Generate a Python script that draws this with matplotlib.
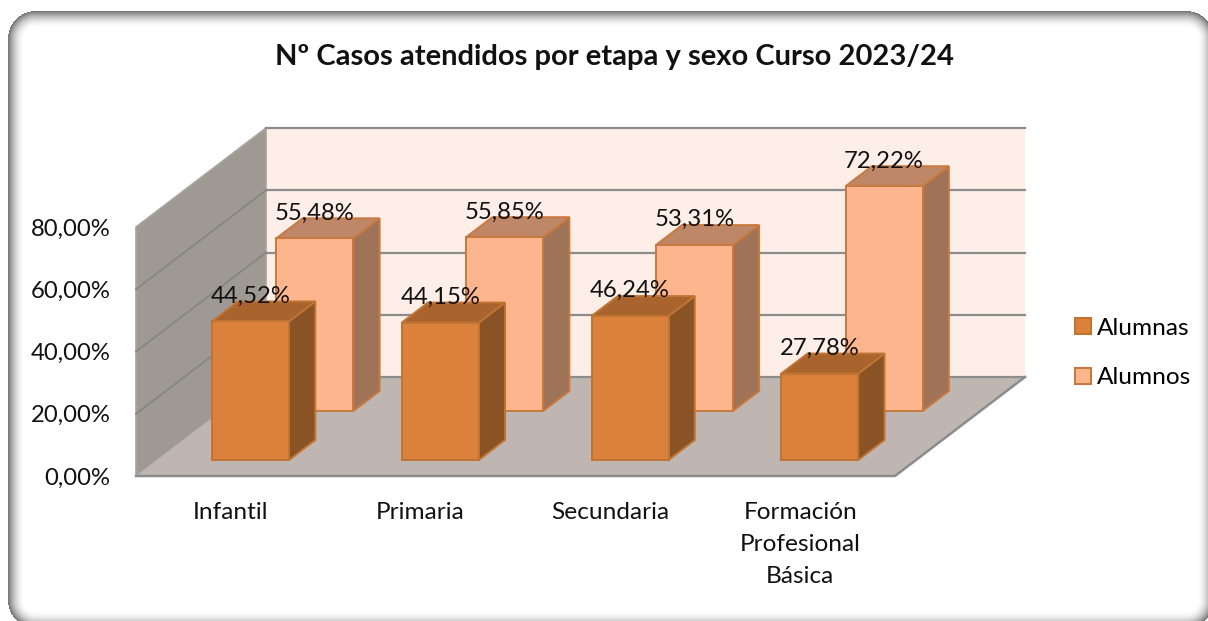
import matplotlib
matplotlib.use("Agg")
import numpy as np
import matplotlib.pyplot as plt
from matplotlib.patches import Polygon, Patch

# ---- data ----
TITLE = "Nº Casos atendidos por etapa y sexo Curso 2023/24"
categories = ["Infantil", "Primaria", "Secundaria", "Formación\nProfesional\nBásica"]
alumnas = [44.52, 44.15, 46.24, 27.78]
alumnos = [55.48, 55.85, 53.31, 72.22]
series_names = ["Alumnas", "Alumnos"]
y_ticks = [0, 20, 40, 60, 80]

plt.rcParams["font.family"] = ["Lato", "DejaVu Sans"]
W, H = 1208, 621
fig = plt.figure(figsize=(W / 100, H / 100), dpi=100, facecolor="white")

# ---- rounded frame with inner shadow (decoration, computed as a distance field) ----
bg = fig.add_axes([0, 0, 1, 1], zorder=0)
bg.axis("off")
L, T, R, B, RAD = 8, 11, 1214, 628, 28
yy, xx = np.mgrid[0:H, 0:W] + 0.5
cx, cy = (L + R) / 2, (T + B) / 2
qx = np.abs(xx - cx) - ((R - L) / 2 - RAD)
qy = np.abs(yy - cy) - ((B - T) / 2 - RAD)
dist = RAD - (np.hypot(np.maximum(qx, 0), np.maximum(qy, 0)) + np.minimum(np.maximum(qx, qy), 0))
shade = np.where(dist >= 0, np.clip(1 - dist / 17, 0, 1) ** 1.9 * 0.56, 0.0)
img = 1 - shade
bg.imshow(img, cmap="gray", vmin=0, vmax=1, extent=(0, W, H, 0), interpolation="bilinear", aspect="auto")

# ---- plot axes: x in category units, y in percent ----
ax = fig.add_axes([136 / W, (H - 476) / H, 759 / W, 249 / H], zorder=1)
ax.set_xlim(0, 4); ax.set_ylim(0, 80)
ax.patch.set_visible(False)
for sp in ax.spines.values():
    sp.set_visible(False)

DX, DY = 130 / 189.75, 99 / (249 / 80)   # oblique shift of full depth in data units
def P(x, v, d=0.0):
    return (x + d * DX, v + d * DY)
def poly(pts, **kw):
    p = Polygon(pts, closed=True, clip_on=False, **kw)
    ax.add_patch(p)

GRID = "#8c8c8c"
top = y_ticks[-1]
# back wall, side wall, floor
poly([P(0, 0, 1), P(4, 0, 1), P(4, top, 1), P(0, top, 1)], fc="#fdeee7", ec="none", zorder=1)
poly([P(0, 0, 0), P(0, 0, 1), P(0, top, 1), P(0, top, 0)], fc="#9f9994", ec="#a8a4a0", lw=1.2, zorder=1)
poly([P(0, 0, 0), P(4, 0, 0), P(4, 0, 1), P(0, 0, 1)], fc="#bfb5b1", ec="none", zorder=1.2)
for v in y_ticks:
    ax.plot(*zip(P(0, v, 1), P(4, v, 1)), color=GRID, lw=1.6, clip_on=False, zorder=1.3 if v == 0 else 1.1)
    if 0 < v < top:
        ax.plot(*zip(P(0, v, 0), P(0, v, 1)), color="#868682", lw=1.3, clip_on=False, zorder=1.1)
ax.plot(*zip(P(0, 0, 0), P(4, 0, 0), P(4, 0, 1)), color=GRID, lw=1.8, clip_on=False, zorder=1.3)

BAR_L, BAR_W = 55 / 189.75, 77 / 189.75
def bar3d(i, v, d0, d1, front, topc, side, edge, z):
    x0, x1 = i + BAR_L, i + BAR_L + BAR_W
    kw = dict(ec=edge, lw=1.4, zorder=z, joinstyle="miter")
    poly([P(x1, 0, d0), P(x1, 0, d1), P(x1, v, d1), P(x1, v, d0)], fc=side, **kw)
    poly([P(x0, v, d0), P(x1, v, d0), P(x1, v, d1), P(x0, v, d1)], fc=topc, **kw)
    poly([P(x0, 0, d0), P(x1, 0, d0), P(x1, v, d0), P(x0, v, d0)], fc=front, **kw)
    cx, cy = P((x0 + x1) / 2, v, d0)
    ax.annotate(f"{v:.2f}%".replace(".", ","), (cx, cy), xytext=(0, 18.2),
                textcoords="offset points", ha="center", va="center",
                fontsize=17.2, color="#111111", annotation_clip=False, zorder=10)

C1 = dict(front="#db813b", topc="#a9642d", side="#8a5326", edge="#c07434")
C2 = dict(front="#fdb58d", topc="#bd8768", side="#9f7358", edge="#c9793e")
D_A, D_O = (16 / 99, 36 / 99), (65 / 99, 85 / 99)
for i, v in enumerate(alumnos):
    bar3d(i, v, *D_O, **C2, z=3 + i * 0.1)
for i, v in enumerate(alumnas):
    bar3d(i, v, *D_A, **C1, z=5 + i * 0.1)

# ---- axes ticks ----
ax.set_yticks(y_ticks)
ax.set_yticklabels([f"{v:.2f}%".replace(".", ",") for v in y_ticks], fontsize=17.2, color="#111111")
ax.set_xticks([i + 0.5 for i in range(len(categories))])
ax.set_xticklabels(categories, fontsize=17.6, color="#111111", linespacing=1.66)
ax.tick_params(axis="y", length=0, pad=18.5)
ax.tick_params(axis="x", length=0, pad=18.5)

# ---- legend ----
handles = [Patch(fc=C1["front"], ec=C1["edge"], lw=1.5), Patch(fc=C2["front"], ec=C2["edge"], lw=1.5)]
fig.legend(handles, series_names, loc="center left", bbox_to_anchor=(1075 / W, 1 - 353 / H),
           frameon=False, fontsize=17.6, handlelength=0.65, handleheight=0.65,
           handletextpad=0.24, labelspacing=1.17, borderpad=0, borderaxespad=0)

fig.text(614 / W, 1 - 57 / H, TITLE, ha="center", va="center", fontsize=21,
         fontweight="bold", color="#111111")
fig.savefig("out.png", dpi=100, facecolor="white")
